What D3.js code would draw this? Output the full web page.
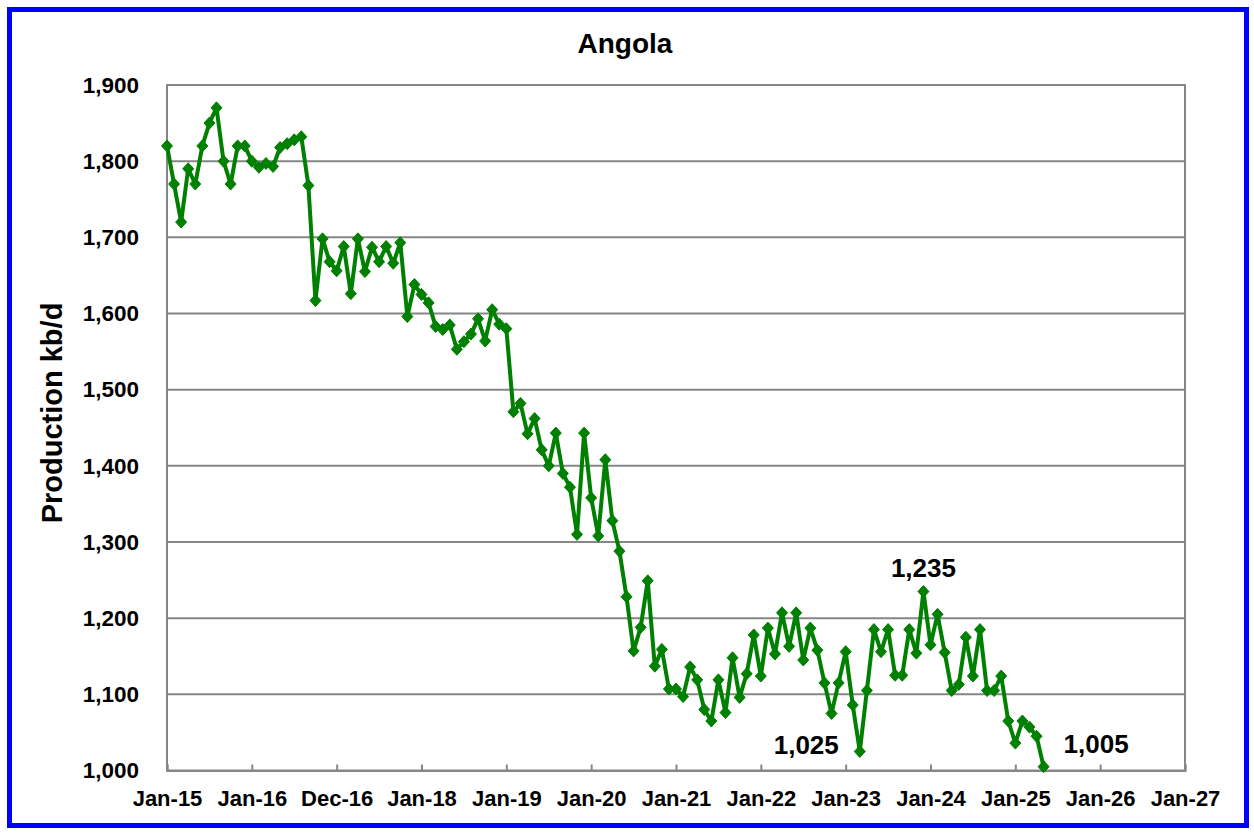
<!DOCTYPE html>
<html>
<head>
<meta charset="utf-8">
<script src="https://cdn.jsdelivr.net/npm/d3@7"></script>
<style>
  html, body { margin: 0; padding: 0; background: #fff; }
  svg { display: block; font-family: "Liberation Sans", Arial, Helvetica, sans-serif; }
</style>
</head>
<body>
<svg id="chart" width="1254" height="836"></svg>
<script>
// ---- Data (monthly, starting Jan 2015) ----
const startYear = 2015;
const production = [
  1820, 1770, 1720, 1790, 1770, 1820, 1850, 1870, 1800, 1770, 1820, 1820,
  1800, 1792, 1797, 1793, 1818, 1823, 1828, 1832, 1768, 1617, 1698, 1668,
  1656, 1688, 1626, 1698, 1655, 1687, 1668, 1688, 1666, 1693, 1596, 1638,
  1625, 1614, 1583, 1579, 1585, 1553, 1563, 1573, 1593, 1564, 1605, 1586,
  1580, 1471, 1482, 1442, 1462, 1421, 1400, 1443, 1390, 1372, 1310, 1443,
  1358, 1308, 1408, 1328, 1288, 1228, 1157, 1188, 1249, 1137, 1159, 1107,
  1107, 1097, 1136, 1119, 1080, 1065, 1119, 1076, 1148, 1096, 1127, 1178,
  1124, 1187, 1153, 1207, 1163, 1207, 1145, 1187, 1158, 1115, 1075, 1115,
  1156, 1086, 1025, 1105, 1185, 1156, 1185, 1125, 1125, 1185, 1154, 1235,
  1165, 1205, 1155, 1105, 1113, 1175, 1124, 1185, 1105, 1105, 1124, 1065,
  1036, 1065, 1057, 1045, 1005
];
const xTickLabels = ["Jan-15","Jan-16","Dec-16","Jan-18","Jan-19","Jan-20","Jan-21",
                     "Jan-22","Jan-23","Jan-24","Jan-25","Jan-26","Jan-27"];
const yTicks = [1000, 1100, 1200, 1300, 1400, 1500, 1600, 1700, 1800, 1900];
const annotIndex = [98, 107, 124];
const annotText = ["1,025", "1,235", "1,005"];
const chartTitle = "Angola";
const yTitle = "Production kb/d";

// ---- Layout ----
const svg = d3.select("#chart");
const pLeft = 167, pRight = 1185, pTop = 85, pBottom = 770.5;
const green = "#008000";

const x = d3.scaleLinear().domain([0, 144]).range([pLeft, pRight]);
const y = d3.scaleLinear().domain([1000, 1900]).range([pBottom, pTop]);

// outer blue frame
svg.append("rect").attr("x", 9.5).attr("y", 9.5).attr("width", 1237).attr("height", 816)
  .attr("fill", "#fff").attr("stroke", "#0000ff").attr("stroke-width", 5);

// gridlines
svg.append("g").selectAll("line").data(yTicks.slice(1)).join("line")
  .attr("x1", pLeft).attr("x2", pRight)
  .attr("y1", d => y(d)).attr("y2", d => y(d))
  .attr("stroke", "#868686").attr("stroke-width", 2);

// plot border
svg.append("rect").attr("x", pLeft).attr("y", pTop).attr("width", pRight - pLeft).attr("height", pBottom - pTop)
  .attr("fill", "none").attr("stroke", "#868686").attr("stroke-width", 2);

// y axis labels
const yAxis = d3.axisLeft(y).tickValues(yTicks).tickSize(0).tickPadding(28)
  .tickFormat(d3.format(","));
const gy = svg.append("g").attr("transform", `translate(${pLeft},0)`).call(yAxis);
gy.select(".domain").remove();
gy.selectAll("text").attr("font-size", 22.5).attr("font-weight", "bold").attr("fill", "#000")
  .attr("font-family", "Liberation Sans, Arial, sans-serif");

// x axis
const xAxis = d3.axisBottom(x).tickValues(d3.range(0, 145, 12)).tickSize(-6).tickPadding(20)
  .tickFormat((d, i) => xTickLabels[i]);
const gx = svg.append("g").attr("transform", `translate(0,${pBottom})`).call(xAxis);
gx.select(".domain").attr("stroke", "#868686").attr("stroke-width", 2);
gx.selectAll(".tick line").attr("stroke", "#868686").attr("stroke-width", 2);
gx.selectAll("text").attr("font-size", 22).attr("font-weight", "bold").attr("fill", "#000")
  .attr("font-family", "Liberation Sans, Arial, sans-serif");

// line
const line = d3.line().x((d, i) => x(i)).y(d => y(d));
svg.append("path").datum(production).attr("d", line)
  .attr("fill", "none").attr("stroke", green).attr("stroke-width", 4).attr("stroke-linejoin", "round");

// diamond markers
const diamond = "M0,-6L5.5,0L0,6L-5.5,0Z";
svg.append("g").selectAll("path").data(production).join("path")
  .attr("d", diamond)
  .attr("transform", (d, i) => `translate(${x(i)},${y(d)})`)
  .attr("fill", green).attr("stroke", green).attr("stroke-width", 1);

// annotations
const annotPos = [
  { dx: -21, dy: 3, anchor: "end" },
  { dx: 0, dy: -15, anchor: "middle" },
  { dx: 20, dy: -14, anchor: "start" }
];
annotIndex.forEach((idx, k) => {
  svg.append("text")
    .attr("x", x(idx) + annotPos[k].dx)
    .attr("y", y(production[idx]) + annotPos[k].dy)
    .attr("text-anchor", annotPos[k].anchor)
    .attr("font-size", 26).attr("font-weight", "bold").attr("fill", "#000")
    .text(annotText[k]);
});

// title
svg.append("text").attr("x", 625).attr("y", 53).attr("text-anchor", "middle")
  .attr("font-size", 28).attr("font-weight", "bold").text(chartTitle);

// y title
svg.append("text").attr("transform", `translate(62,413) rotate(-90)`)
  .attr("text-anchor", "middle").attr("font-size", 29).attr("font-weight", "bold").text(yTitle);
</script>
</body>
</html>
